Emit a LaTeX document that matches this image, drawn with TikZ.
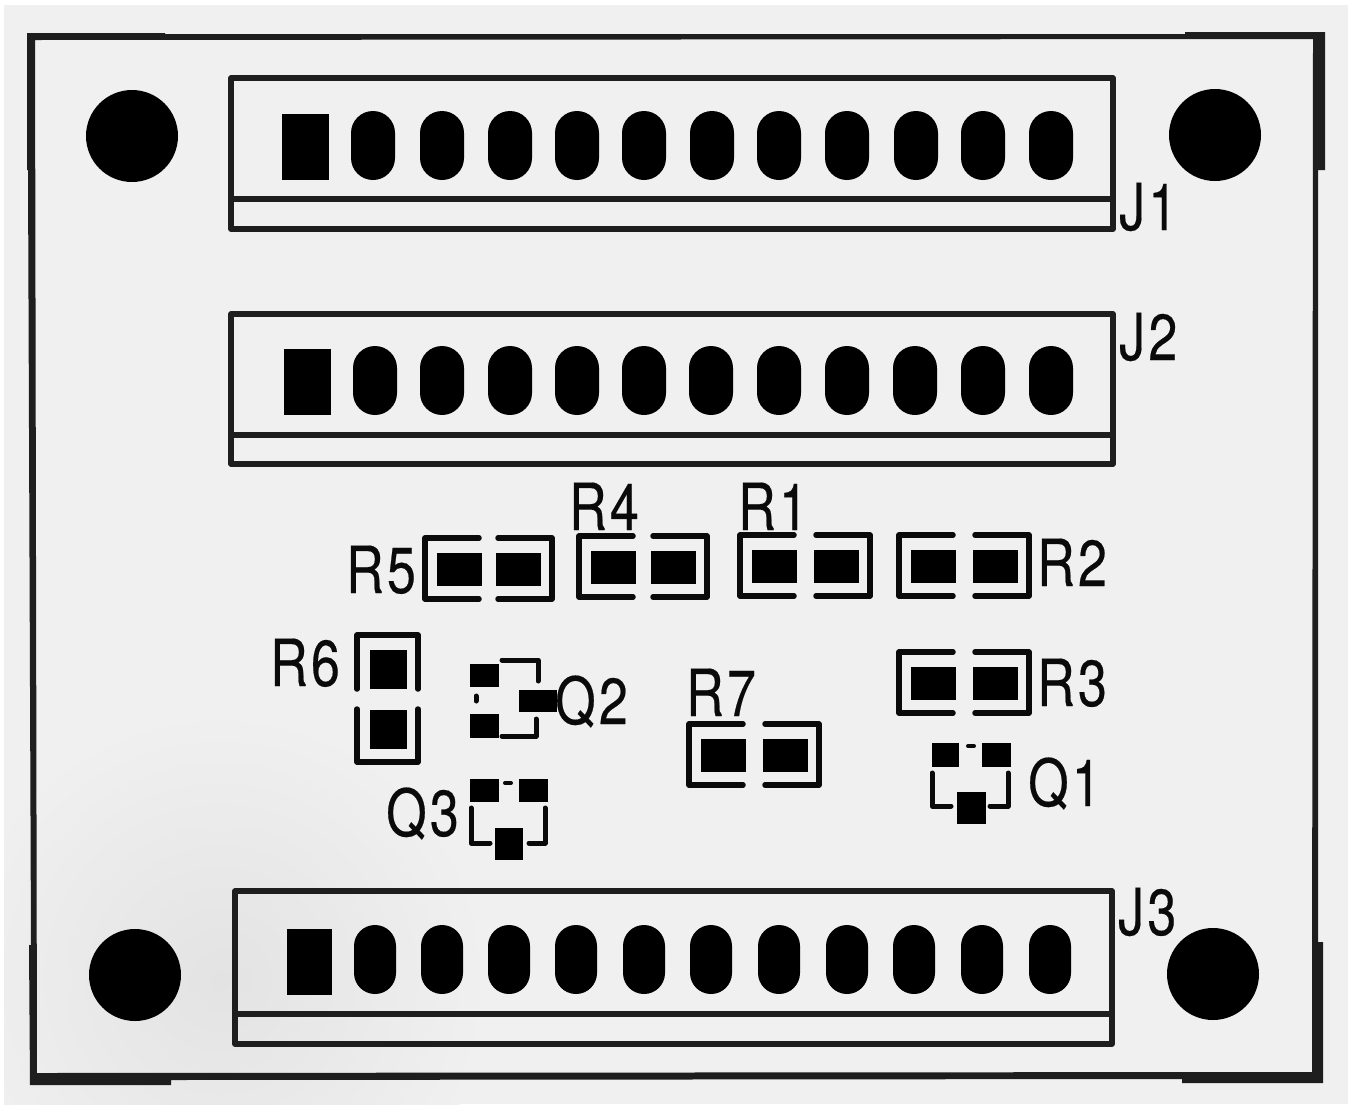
\documentclass[tikz,border=0pt]{standalone}
\usepackage{fontspec}
\newfontfamily\silk[FakeStretch=0.8,FakeBold=0.3,LetterSpace=5]{TeX Gyre Heros}
\definecolor{boardbg}{HTML}{F0F0F0}
\definecolor{stain}{HTML}{E3E3E3}
\definecolor{ink}{HTML}{0A0A0A}
\definecolor{edge}{HTML}{1E1E1E}
\tikzset{
  silkline/.style={draw=ink,line width=5.5pt,line join=round,line cap=round},
  conline/.style={draw=edge,line width=5.5pt,line join=round},
  padfill/.style={fill=black,draw=none},
  hole/.style={circle,fill=black,draw=none,inner sep=0pt,minimum size=92pt},
  refdes/.style={anchor=base west,inner sep=0pt,text=ink,font=\silk\fontsize{65}{65}\selectfont},
}
% connector: x1 x2 y1 y2 ybar
\newcommand{\conbox}[5]{\draw[conline] (#1,#3) rectangle (#2,#4); \draw[conline] (#1,#5) -- (#2,#5);}
% slot: cx y1 y2 w
\newcommand{\slotpad}[4]{\fill[black,rounded corners=#4/2-.01pt] ({#1-#4/2},#2) rectangle ({#1+#4/2},#3);}
\newcommand{\padrect}[4]{\fill[padfill] (#1,#3) rectangle (#2,#4);}
% horizontal resistor: outer left x, outer top y, outer width
\newcommand{\resH}[3]{%
  \begin{scope}[shift={(#1,#2)}]
    \pgfmathsetmacro{\rw}{#3}
    \draw[silkline] (57,3) -- (3,3) -- (3,64) -- (57,64);
    \draw[silkline] (\rw-57,3) -- (\rw-3,3) -- (\rw-3,64) -- (\rw-57,64);
    \fill[padfill] (15,18) rectangle (60,51);
    \fill[padfill] (\rw-59,18) rectangle (\rw-14,51);
  \end{scope}}
\begin{document}
\begin{tikzpicture}[x=1pt,y=-1pt]
\useasboundingbox (0,0) rectangle (1350,1104);
\fill[white] (0,0) rectangle (1350,1104);
\fill[boardbg] (4,5) rectangle (1348,1104);
% faint stain at lower left
\begin{scope}
  \clip (4,5) rectangle (1348,1104);
  \shade[inner color=stain,outer color=boardbg] (220,980) circle[radius=270];
\end{scope}
% board outline: thick at the corners, thinner along the edges
\fill[edge,even odd rule]
  (27,33) -- (165,33) -- (165,34) -- (1185,34) -- (1185,32) -- (1325,32) -- (1325,170) -- (1318,170)
  -- (1318,942) -- (1323,942) -- (1323,1083) -- (1182,1083) -- (1182,1079) -- (171,1080) -- (171,1085)
  -- (30,1085) -- (29,945) -- (31,945) -- (28,170) -- (27,170) -- cycle
  (35,40) -- (1313,39) -- (1312,1072) -- (37,1073) -- cycle;
% mounting holes
\node[hole] (h1) at (132,136) {};
\node[hole] (h2) at (1215,135) {};
\node[hole] (h3) at (135,975) {};
\node[hole] (h4) at (1213,974) {};
% connectors
\conbox{231}{1113}{78}{229}{199}
\conbox{231}{1113}{314}{464}{435}
\conbox{235}{1112}{891}{1044}{1014}
\padrect{282}{329}{114}{180}
\foreach \cx in {373,442,510,577,644,712,779,847,916,983,1051} {\slotpad{\cx}{111}{180}{44}}
\padrect{284}{331}{349}{415}
\foreach \cx in {375,442,510,577,644,711,779,847,915,983,1051} {\slotpad{\cx}{346}{415}{44}}
\padrect{287}{332}{929}{995}
\foreach \cx in {375,442,509,576,644,711,779,847,914,982,1050} {\slotpad{\cx}{925}{994}{42}}
% resistors
\resH{422}{535}{133}
\resH{576}{533}{134}
\resH{737}{532}{136}
\resH{896}{532}{136}
\resH{896}{649}{136}
\resH{686}{721}{136}
% R6 vertical
\draw[silkline] (357,689) -- (357,635) -- (418,635) -- (418,689);
\draw[silkline] (357,709) -- (357,762) -- (418,762) -- (418,709);
\padrect{370}{407}{650}{689}
\padrect{370}{407}{710}{749}
% Q2
\padrect{470}{499}{664}{687}
\padrect{470}{499}{714}{738}
\padrect{519}{557}{690}{712}
\draw[silkline,line width=5pt] (502,660) -- (538,660) -- (538,681);
\draw[silkline,line width=5pt] (502,736) -- (536,736) -- (536,719);
\draw[ink,line width=5pt,line cap=round] (476,696) -- (476,701);
% Q3
\padrect{470}{499}{779}{802}
\padrect{519}{548}{779}{802}
\padrect{495}{523}{828}{860}
\draw[silkline,line width=5pt] (471,808) -- (471,843) -- (490,843);
\draw[silkline,line width=5pt] (545,808) -- (545,843) -- (529,843);
\draw[ink,line width=4pt,line cap=round] (505,783) -- (511,783);
% Q1
\padrect{932}{959}{743}{767}
\padrect{982}{1011}{743}{767}
\padrect{957}{986}{792}{824}
\draw[silkline,line width=5pt] (932,773) -- (932,806) -- (951,806);
\draw[silkline,line width=5pt] (1008,773) -- (1008,806) -- (990,806);
\draw[ink,line width=4pt,line cap=round] (968,746) -- (974,746);
% reference designators
\node[refdes] (tJ1) at (1119,230) {J1};
\node[refdes] (tJ2) at (1119,360) {J2};
\node[refdes] (tJ3) at (1118,935) {J3};
\node[refdes] (tR5) at (346,593) {R5};
\node[refdes] (tR4) at (569,530) {R4};
\node[refdes] (tR1) at (738,530) {R1};
\node[refdes] (tR2) at (1037,586) {R2};
\node[refdes] (tR3) at (1037,706) {R3};
\node[refdes] (tR6) at (270,686) {R6};
\node[refdes] (tR7) at (686,716) {R7};
\node[refdes] (tQ2) at (555,724) {Q2};
\node[refdes] (tQ3) at (386,836) {Q3};
\node[refdes] (tQ1) at (1028,806) {Q1};
\end{tikzpicture}
\end{document}
